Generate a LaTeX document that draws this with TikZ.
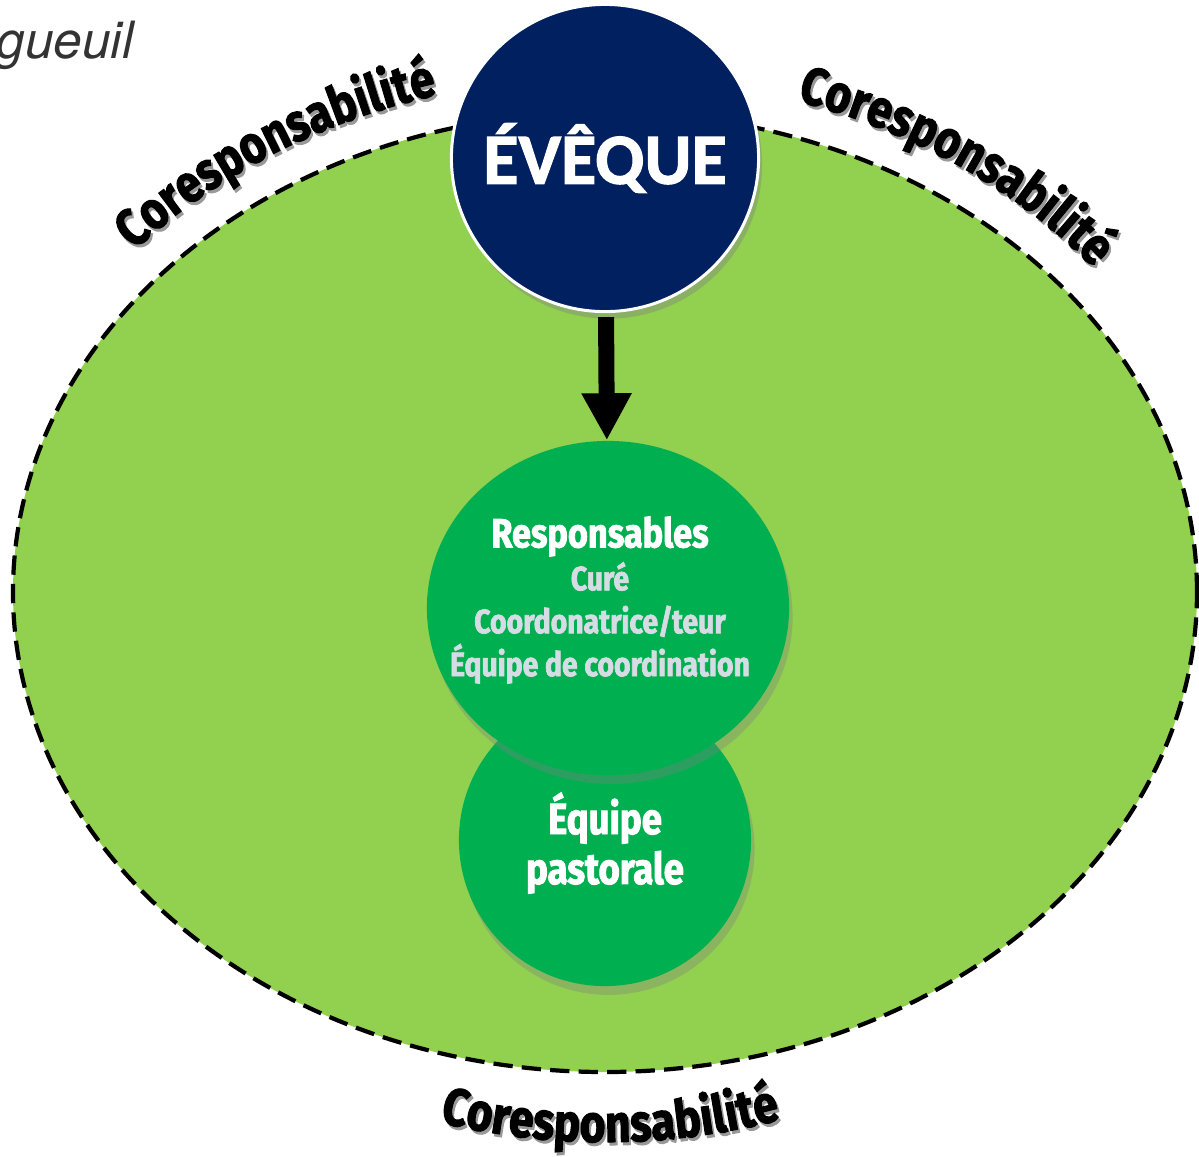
\documentclass[tikz,border=0pt]{standalone}
\usepackage{fontspec}
\usetikzlibrary{arrows.meta,shapes.geometric,shadows,decorations.text}
\newfontfamily\condfont[FakeStretch=0.84,FakeBold=2]{Fira Sans}
\newfontfamily\titlefont[FakeBold=1.5]{Carlito}
\newfontfamily\cityfont{TeX Gyre Heros}
\definecolor{fieldgreen}{HTML}{92D050}
\definecolor{teamgreen}{HTML}{00B050}
\definecolor{bishopblue}{HTML}{002060}
\definecolor{roletext}{HTML}{D6DCE4}
\newcommand{\roleline}[1]{{\color{roletext}\fontsize{9.6}{12.2}\selectfont #1}}
\tikzset{
  bubble/.style={fill=teamgreen, inner sep=0pt,
    drop shadow={opacity=.35, shadow xshift=1pt, shadow yshift=-2.5pt}},
  label text/.style={text=white, align=center, inner sep=0pt,
    font=\condfont\bfseries\fontsize{11.6}{12.2}\selectfont},
  corespo/.style={decorate, decoration={text along path, text align=center,
    text={|\condfont\bfseries\fontsize{15}{15}\selectfont\color{#1}|Coresponsabilité}}}
}
\begin{document}
\begin{tikzpicture}[x=0.01cm, y=0.01cm]
  \useasboundingbox (0,0) rectangle (1199,-1156);

  \node[anchor=base west, inner sep=0pt, text=black!80, font=\cityfont\itshape\fontsize{14.6}{16}\selectfont] (city) at (-4,-58) {gueuil};

  % champ de la coresponsabilite
  \draw[fill=fieldgreen, line width=1.2pt, dash pattern=on 5.5pt off 2.6pt] (605,-592) ellipse [x radius=592, y radius=480];

  \path[corespo=black!40, shift={(2,-3)}] (605,-592) ++(148:628 and 516) arc [start angle=148, end angle=97, x radius=628, y radius=516];
  \path[corespo=black] (605,-592) ++(148:628 and 516) arc [start angle=148, end angle=97, x radius=628, y radius=516];
  \path[corespo=black!40, shift={(2,-3)}] (605,-592) ++(81:628 and 516) arc [start angle=81, end angle=29, x radius=628, y radius=516];
  \path[corespo=black] (605,-592) ++(81:628 and 516) arc [start angle=81, end angle=29, x radius=628, y radius=516];
  \path[corespo=black!40, shift={(2,-3)}] (605,-592) ++(-117:620 and 550) arc [start angle=-117, end angle=-62, x radius=620, y radius=550];
  \path[corespo=black] (605,-592) ++(-117:620 and 550) arc [start angle=-117, end angle=-62, x radius=620, y radius=550];

  \node[bubble, circle, minimum size=2.92cm] (team) at (605,-840) {};
  \node[label text, font=\condfont\bfseries\fontsize{12.4}{14.2}\selectfont] (teamlabel) at (605,-843) {Équipe\\pastorale};

  \node[bubble, ellipse, minimum width=3.62cm, minimum height=3.34cm] (resp) at (608,-608) {};
  \node[label text] (resplabel) at (600,-600)
    {Responsables\\\roleline{Curé}\\\roleline{Coordonatrice/teur}\\\roleline{Équipe de coordination}};

  \node[circle, minimum size=3.07cm, fill=bishopblue, draw=white, line width=0.03cm,
    drop shadow={opacity=.4, shadow xshift=1pt, shadow yshift=-2pt},
    text=white, font=\titlefont\bfseries\fontsize{20.5}{22}\selectfont] (eveque) at (605,-158) {ÉVÊQUE};

  \draw[-{Triangle[length=0.47cm, width=0.47cm]}, line width=0.16cm, shorten <=0.04cm] (eveque) -- (resp);
\end{tikzpicture}
\end{document}
